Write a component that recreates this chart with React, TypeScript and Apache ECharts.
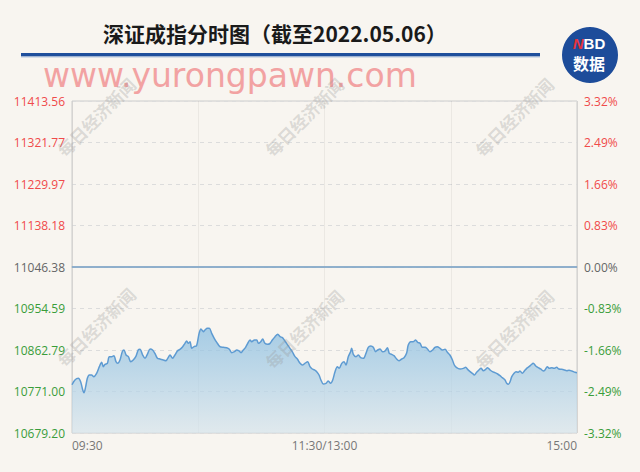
import React, { useEffect, useRef } from "react";
import * as echarts from "echarts";

const titleText = "深证成指分时图（截至2022.05.06）";
const watermarkText = "www.yurongpawn.com";
const stampText = "每日经济新闻";
const prevClose = 11046.38;
const tickStep = 91.795;
const leftTicks = ["10679.20", "10771.00", "10862.79", "10954.59", "11046.38", "11138.18", "11229.97", "11321.77", "11413.56"];
const rightTicks = ["-3.32%", "-2.49%", "-1.66%", "-0.83%", "0.00%", "0.83%", "1.66%", "2.49%", "3.32%"];
const timeTicks = ["09:30", "", "11:30/13:00", "", "15:00"];

// minutes since 09:30 (trading minutes, 240 total)
const minutes = [
  0, 1.4, 3.0, 4.1, 5.1, 5.7, 6.5, 7.3, 8.2, 9.3, 10.4, 11.7, 13.0, 14.1, 14.9, 15.7, 16.8, 17.7, 18.8, 19.9,
  20.9, 21.7, 22.8, 23.9, 24.7, 25.7, 26.8, 27.9, 29.1, 30.3, 31.5, 32.3, 33.6, 34.7, 35.8, 37.1, 38.3, 39.4, 40.6, 41.8,
  43.4, 44.7, 45.5, 46.6, 47.8, 48.9, 50.1, 51.3, 52.6, 53.7, 54.5, 55.3, 56.1, 56.9, 58.0, 59.2, 60.4, 61.3, 62.4, 63.2,
  64.3, 65.3, 66.4, 67.6, 68.8, 70.3, 71.9, 73.5, 74.8, 75.9, 77.2, 78.3, 79.4, 80.3, 81.4, 82.5, 83.5, 84.6, 85.4, 86.7,
  87.8, 88.6, 89.7, 90.6, 91.7, 93.0, 94.1, 95.2, 96.5, 97.8, 98.9, 100.0, 101.2, 102.5, 103.6, 104.7, 106.0, 107.1, 108.4, 109.5,
  110.7, 112.0, 113.1, 114.2, 115.2, 116.3, 117.4, 118.3, 119.4, 120.7, 121.8, 122.9, 123.9, 125.0, 126.1, 127.0, 128.2, 129.3, 130.2, 131.3,
  132.4, 132.9, 133.7, 135.0, 136.1, 137.2, 138.5, 139.7, 140.8, 142.0, 143.2, 144.3, 145.3, 146.4, 147.6, 148.8, 149.9, 150.8, 151.9, 153.0,
  154.3, 155.4, 156.7, 157.8, 159.0, 159.8, 161.0, 162.2, 163.3, 164.3, 165.4, 166.5, 167.8, 168.9, 170.1, 171.4, 172.5, 173.6, 174.9, 176.0,
  177.3, 178.4, 179.6, 180.8, 181.7, 182.8, 184.4, 186.0, 187.1, 188.0, 189.2, 190.3, 191.2, 192.3, 193.4, 194.4, 195.5, 196.6, 197.5, 198.7,
  199.8, 201.0, 202.3, 203.4, 204.5, 205.8, 206.6, 207.4, 208.2, 209.0, 210.1, 211.0, 212.1, 212.9, 214.0, 215.0, 216.1, 217.2, 218.1, 219.2,
  220.4, 221.6, 222.7, 224.0, 224.8, 225.9, 226.9, 228.0, 229.1, 230.3, 231.4, 232.7, 234.0, 235.1, 236.2, 237.5, 239.1, 240.0,
];

const indexValues = [
  10786.0, 10796.5, 10800.2, 10792.7, 10774.3, 10768.4, 10781.7, 10800.2, 10807.5, 10807.5, 10803.8, 10811.2, 10825.9, 10835.5, 10825.9, 10831.1, 10833.3, 10848.0, 10848.0, 10850.3,
  10837.0, 10833.3, 10840.7, 10859.1, 10862.8, 10851.7, 10848.0, 10837.0, 10840.7, 10848.0, 10862.8, 10864.3, 10851.7, 10844.4, 10853.2, 10865.0, 10862.8, 10855.4, 10844.4, 10842.9,
  10840.7, 10839.2, 10844.4, 10851.7, 10844.4, 10851.7, 10860.6, 10864.3, 10870.2, 10877.5, 10882.7, 10877.5, 10881.2, 10866.5, 10870.2, 10872.4, 10899.6, 10909.2, 10903.3, 10907.0,
  10910.7, 10910.7, 10899.6, 10888.6, 10879.7, 10870.2, 10868.7, 10867.9, 10864.3, 10856.9, 10859.1, 10862.8, 10860.6, 10856.9, 10862.8, 10868.7, 10877.5, 10884.9, 10881.2, 10884.9,
  10884.9, 10877.5, 10881.2, 10887.1, 10877.5, 10875.3, 10877.5, 10884.9, 10892.3, 10897.5, 10892.3, 10890.1, 10882.7, 10873.8, 10866.5, 10859.1, 10848.0, 10842.9, 10833.3, 10829.6,
  10833.3, 10837.0, 10825.9, 10820.8, 10818.6, 10814.9, 10807.5, 10796.5, 10787.6, 10789.1, 10794.2, 10789.1, 10796.5, 10814.9, 10825.9, 10822.2, 10833.3, 10837.0, 10829.6, 10848.0,
  10859.1, 10866.5, 10853.2, 10848.0, 10851.7, 10845.8, 10844.4, 10855.4, 10868.7, 10871.6, 10868.7, 10859.1, 10862.8, 10865.0, 10859.1, 10860.6, 10867.9, 10855.4, 10853.2, 10850.3,
  10842.9, 10839.2, 10842.9, 10845.8, 10855.4, 10873.8, 10881.2, 10881.2, 10884.9, 10879.7, 10877.5, 10868.7, 10868.7, 10865.0, 10859.1, 10862.8, 10868.7, 10870.2, 10866.5, 10862.8,
  10864.3, 10858.0, 10851.7, 10840.7, 10829.6, 10823.7, 10820.8, 10822.2, 10824.5, 10820.0, 10814.9, 10811.2, 10807.5, 10813.4, 10818.6, 10822.2, 10817.1, 10820.0, 10823.7, 10818.6,
  10814.9, 10812.7, 10809.7, 10806.0, 10801.6, 10796.5, 10789.1, 10786.9, 10792.7, 10803.8, 10811.2, 10814.9, 10813.4, 10816.4, 10811.2, 10816.4, 10822.2, 10825.9, 10829.6, 10833.3,
  10827.4, 10823.7, 10820.8, 10816.4, 10818.6, 10825.9, 10822.2, 10823.7, 10822.2, 10824.5, 10820.8, 10820.0, 10818.6, 10817.1, 10817.9, 10816.4, 10813.4, 10812.7,
];

const stampCenters = [
  [96, 117], [304, 117], [514, 117],
  [96, 327], [304, 329], [514, 329],
];

const tickColor = (i: number) => (i > 4 ? "#f04a4a" : i < 4 ? "#3a9d3a" : "#666666");

export default function App() {
  const ref = useRef<HTMLDivElement>(null);
  useEffect(() => {
    document.body.style.margin = "0";
    if (!ref.current) return;
    const chart = echarts.init(ref.current, null, { renderer: "svg" });
    const seriesData = minutes.map((m, i) => [m, (indexValues[i] - prevClose) / tickStep]);
    const idx = (v: number) => Math.round(v) + 4;

    const stamps = stampCenters.map(([x, y]) => ({
      type: "text",
      x,
      y,
      rotation: Math.PI / 4,
      z: 100,
      silent: true,
      style: {
        text: stampText,
        fill: "rgba(150,150,150,0.3)",
        font: "bold 17px 'Noto Sans CJK SC'",
        textAlign: "center",
        textVerticalAlign: "middle",
      },
    }));

    chart.setOption({
      animation: false,
      backgroundColor: "#f8f5f0",
      grid: {
        left: 72,
        right: 63,
        top: 101,
        bottom: 39,
        show: true,
        borderColor: "#cccccc",
        borderWidth: 1,
      },
      xAxis: {
        type: "value",
        min: 0,
        max: 240,
        interval: 60,
        axisLine: { show: true, lineStyle: { color: "#c4c4c4", width: 1.5 } },
        axisTick: { show: false },
        splitLine: { show: true, lineStyle: { color: "rgba(0,0,0,0.05)", width: 1 } },
        axisLabel: {
          color: "#777777",
          fontSize: 12,
          fontFamily: "'Open Sans', sans-serif",
          margin: 6,
          showMinLabel: true,
          showMaxLabel: true,
          alignMinLabel: "left",
          alignMaxLabel: "right",
          formatter: (v: number) => timeTicks[Math.round(v / 60)] || "",
        },
      },
      yAxis: [
        {
          type: "value",
          min: -4,
          max: 4,
          interval: 1,
          axisLine: { show: false },
          axisTick: { show: false },
          splitLine: { show: true, lineStyle: { color: "#dcdcdc", type: [4, 4], width: 1 } },
          axisLabel: {
            margin: 7,
            fontSize: 12,
            fontFamily: "'Open Sans', sans-serif",
            formatter: (v: number) => leftTicks[idx(v)],
            color: (v: number) => tickColor(idx(v)),
          },
        },
        {
          type: "value",
          position: "right",
          min: -4,
          max: 4,
          interval: 1,
          axisLine: { show: false },
          axisTick: { show: false },
          splitLine: { show: false },
          axisLabel: {
            margin: 7,
            fontSize: 12,
            fontFamily: "'Open Sans', sans-serif",
            formatter: (v: number) => rightTicks[idx(v)],
            color: (v: number) => tickColor(idx(v)),
          },
        },
      ],
      series: [
        {
          type: "line",
          data: seriesData,
          showSymbol: false,
          smooth: 0.3,
          lineStyle: { color: "#5e9bd2", width: 1.5 },
          areaStyle: {
            origin: "start",
            color: new echarts.graphic.LinearGradient(0, 0, 0, 1, [
              { offset: 0, color: "#84bbe0" },
              { offset: 1, color: "#d6e4ec" },
            ]),
          },
          markLine: {
            silent: true,
            symbol: "none",
            label: { show: false },
            lineStyle: { color: "#7aa4cb", type: "solid", width: 1.5 },
            data: [{ yAxis: 0 }],
          },
        },
      ],
      graphic: [
        {
          type: "text",
          left: 103,
          top: 22,
          style: {
            text: titleText,
            fill: "#1a1a1a",
            font: "bold 21px 'Noto Sans CJK SC'",
          },
        },
        { type: "rect", shape: { x: 21, y: 53, width: 519, height: 3.5 }, style: { fill: "#1f4f9c" } },
        { type: "rect", shape: { x: 21, y: 56.5, width: 519, height: 1 }, style: { fill: "#b4c6de" } },
        { type: "circle", shape: { cx: 590, cy: 55, r: 28 }, style: { fill: "#1d4c9a" } },
        {
          type: "text",
          x: 589,
          y: 43,
          style: {
            rich: {
              n: { fill: "#e8343c", font: "italic bold 15px 'Liberation Sans'" },
              b: { fill: "#ffffff", font: "bold 15px 'Liberation Sans'" },
            },
            text: "{n|N}{b|BD}",
            textAlign: "center",
            textVerticalAlign: "middle",
          },
        },
        {
          type: "text",
          x: 589,
          y: 63,
          style: {
            text: "数据",
            fill: "#ffffff",
            font: "bold 16px 'Noto Sans CJK SC'",
            textAlign: "center",
            textVerticalAlign: "middle",
          },
        },
        {
          type: "text",
          x: 43,
          y: 75.5,
          z: 50,
          style: {
            text: watermarkText,
            fill: "#f2a2a2",
            font: "33px 'DejaVu Sans'",
            textAlign: "left",
            textVerticalAlign: "middle",
          },
        },
        ...stamps,
      ],
    });
    return () => chart.dispose();
  }, []);
  return <div ref={ref} style={{ width: 640, height: 472, background: "#f8f5f0" }} />;
}
